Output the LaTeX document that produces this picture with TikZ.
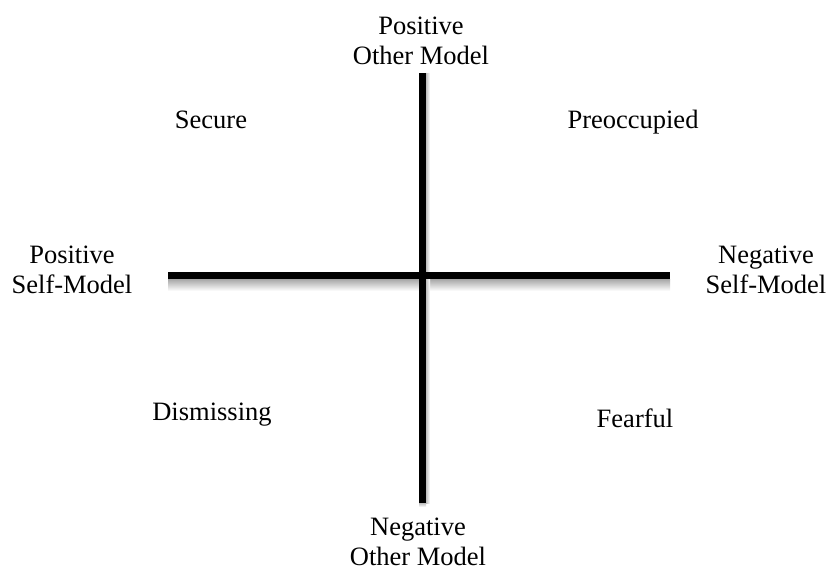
\documentclass[tikz,border=0pt]{standalone}
\usepackage{fontspec}
\setmainfont{Liberation Serif}
\begin{document}
\begin{tikzpicture}[x=1pt,y=-1pt,
  lbl/.style={font=\fontsize{26.5}{30}\selectfont, inner sep=0pt, align=center, anchor=base},
  axis/.style={line width=7.5pt, black}]
\useasboundingbox (0,0) rectangle (830,571);
% shadows
\shade[top color=black!35, bottom color=white] (168,279) rectangle (670,291);
\shade[left color=black!25, right color=white] (426,73) rectangle (430,503);
\shade[top color=black!25, bottom color=white] (419,503) rectangle (426,507);
% axes
\coordinate (hl) at (168,275.5);
\coordinate (hr) at (670,275.5);
\coordinate (vt) at (422.5,73);
\coordinate (vb) at (422.5,503);
\draw[axis] (hl) -- (hr);
\draw[axis] (vt) -- (vb);
% labels
\node[lbl] (po) at (421,64) {Positive\\Other Model};
\node[lbl] (sec) at (211,128) {Secure};
\node[lbl] (pre) at (633,128) {Preoccupied};
\node[lbl] (ps) at (72,293) {Positive\\Self-Model};
\node[lbl] (ns) at (766,293) {Negative\\Self-Model};
\node[lbl] (dis) at (212,420) {Dismissing};
\node[lbl] (fea) at (635,427) {Fearful};
\node[lbl] (no) at (418,565) {Negative\\Other Model};
\end{tikzpicture}
\end{document}
